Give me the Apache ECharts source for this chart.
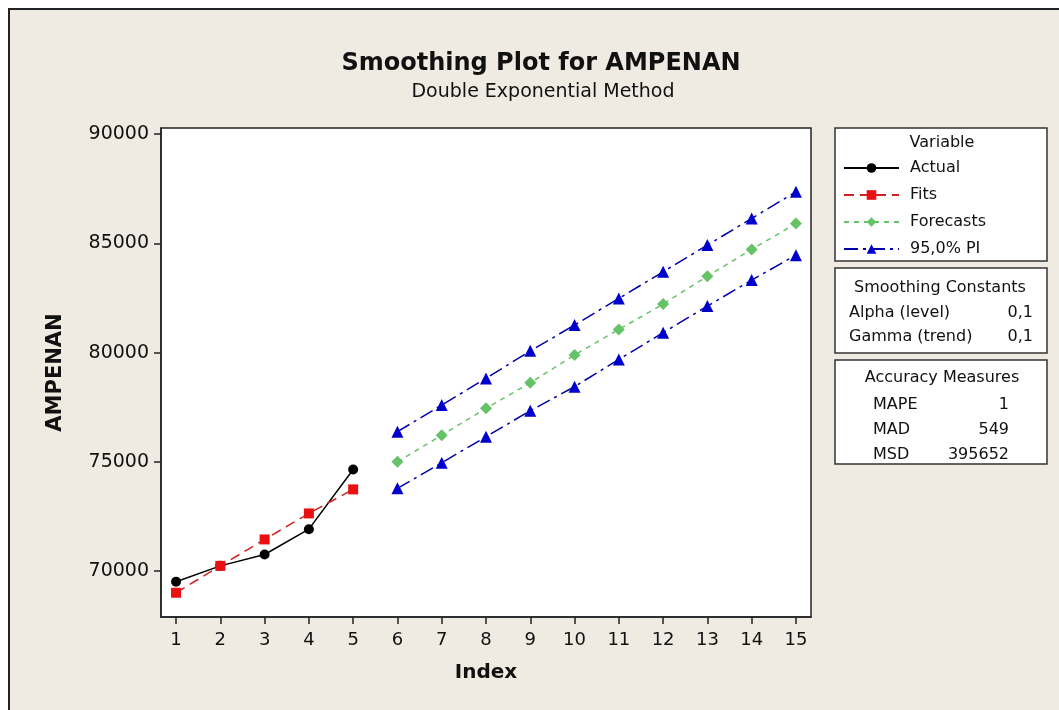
<!DOCTYPE html>
<html><head><meta charset="utf-8">
<script src="https://cdn.jsdelivr.net/npm/echarts@6/dist/echarts.min.js"></script>
<style>html,body{margin:0;padding:0;background:#fff;}#c{width:1059px;height:710px;}</style>
</head><body><div id="c"></div>
<script>
const indexTicks = [1,2,3,4,5,6,7,8,9,10,11,12,13,14,15];
const yTicks = [70000,75000,80000,85000,90000];
const actualX = [1,2,3,4,5];
const actual = [69510,70240,70760,71920,74650];
const fits = [69010,70240,71450,72640,73740];
const forecastX = [6,7,8,9,10,11,12,13,14,15];
const forecasts = [75000,76220,77450,78620,79890,81060,82220,83500,84720,85910];
const upperPI = [76380,77600,78820,80080,81260,82480,83700,84920,86140,87360];
const lowerPI = [73790,74960,76150,77340,78440,79690,80910,82130,83320,84460];
const seriesNames = ['Actual','Fits','Forecasts','95,0% PI'];
const constants = [['Alpha (level)','0,1'],['Gamma (trend)','0,1']];
const accuracy = [['MAPE','1'],['MAD','549'],['MSD','395652']];

const pair = (xs, ys) => xs.map((x,i)=>[x, ys[i]]);
const FONT = '"DejaVu Sans", sans-serif';
const LF = '16px ' + FONT;
const chart = echarts.init(document.getElementById('c'));

const graphics = [
  {type:'rect', shape:{x:9,y:9,width:1100,height:760}, style:{fill:'#efebe2', stroke:'#222', lineWidth:2}, z:-10},
  {type:'rect', shape:{x:835,y:128,width:212,height:133}, style:{fill:'#fff', stroke:'#333', lineWidth:1.5}, z:-1},
  {type:'rect', shape:{x:835,y:268,width:212,height:85}, style:{fill:'#fff', stroke:'#333', lineWidth:1.5}, z:-1},
  {type:'rect', shape:{x:835,y:360,width:212,height:104}, style:{fill:'#fff', stroke:'#333', lineWidth:1.5}, z:-1},
  {type:'text', x:942, y:143, style:{text:'Variable', font:LF, fill:'#111', textAlign:'center', textVerticalAlign:'middle'}},
  {type:'text', x:940, y:288, style:{text:'Smoothing Constants', font:LF, fill:'#111', textAlign:'center', textVerticalAlign:'middle'}},
  {type:'text', x:942, y:378, style:{text:'Accuracy Measures', font:LF, fill:'#111', textAlign:'center', textVerticalAlign:'middle'}}
];
constants.forEach((r,i)=>{
  graphics.push({type:'text', x:849, y:313+i*24, style:{text:r[0], font:LF, fill:'#111', textAlign:'left', textVerticalAlign:'middle'}});
  graphics.push({type:'text', x:1033, y:313+i*24, style:{text:r[1], font:LF, fill:'#111', textAlign:'right', textVerticalAlign:'middle'}});
});
accuracy.forEach((r,i)=>{
  graphics.push({type:'text', x:873, y:405+i*25, style:{text:r[0], font:LF, fill:'#111', textAlign:'left', textVerticalAlign:'middle'}});
  graphics.push({type:'text', x:1009, y:405+i*25, style:{text:r[1], font:LF, fill:'#111', textAlign:'right', textVerticalAlign:'middle'}});
});

chart.setOption({
  backgroundColor:'transparent',
  animation:false,
  title:[
    {text:'Smoothing Plot for AMPENAN', left:536, top:47, textAlign:'center',
     textStyle:{fontFamily:FONT, fontSize:24, fontWeight:'bold', color:'#111'}},
    {text:'Double Exponential Method', left:538, top:78, textAlign:'center',
     textStyle:{fontFamily:FONT, fontSize:19, fontWeight:'normal', color:'#111'}}
  ],
  graphic: graphics,
  legend:{
    data: seriesNames, orient:'vertical', left:843, top:160, padding:0,
    itemWidth:55, itemHeight:12, itemGap:11,
    textStyle:{fontFamily:FONT, fontSize:16, color:'#111', padding:[0,0,0,6]},
    selectedMode:false
  },
  grid:{left:161, right:248, top:128, bottom:93, show:true, backgroundColor:'#fff', borderColor:'#222', borderWidth:1.5},
  xAxis:{
    type:'value', min:0.66, max:15.34,
    name:'Index', nameLocation:'middle', nameGap:46,
    nameTextStyle:{fontFamily:FONT, fontSize:20, fontWeight:'bold', color:'#111'},
    axisLine:{show:true, onZero:false, lineStyle:{color:'#222', width:1.5}},
    axisTick:{show:true, length:7, lineStyle:{color:'#222', width:1.5}, customValues:indexTicks},
    axisLabel:{customValues:indexTicks, fontFamily:FONT, fontSize:18, color:'#111', margin:14},
    splitLine:{show:false}
  },
  yAxis:{
    type:'value', min:67900, max:90280,
    name:'AMPENAN', nameLocation:'middle', nameGap:95,
    nameTextStyle:{fontFamily:FONT, fontSize:21, fontWeight:'bold', color:'#111'},
    axisLine:{show:true, lineStyle:{color:'#222', width:1.5}},
    axisTick:{show:true, length:7, lineStyle:{color:'#222', width:1.5}, customValues:yTicks},
    axisLabel:{customValues:yTicks, formatter:v=>String(v), fontFamily:FONT, fontSize:19, color:'#111', margin:12},
    splitLine:{show:false}
  },
  series:[
    {name:'Actual', type:'line', data:pair(actualX, actual), symbol:'circle', symbolSize:10,
     itemStyle:{color:'#000'}, lineStyle:{color:'#000', width:1.5}},
    {name:'Fits', type:'line', data:pair(actualX, fits), symbol:'rect', symbolSize:10,
     itemStyle:{color:'#e81010'}, lineStyle:{color:'#d02020', width:1.5, type:[10,6]}},
    {name:'Forecasts', type:'line', data:pair(forecastX, forecasts), symbol:'diamond', symbolSize:12,
     itemStyle:{color:'#66c266'}, lineStyle:{color:'#66c266', width:1.5, type:[5,5]}},
    {name:'95,0% PI', type:'line', data:pair(forecastX, upperPI), symbol:'triangle', symbolSize:12,
     itemStyle:{color:'#0000cc'}, lineStyle:{color:'#0000aa', width:1.5, type:[14,5,3,5]}},
    {name:'95,0% PI', type:'line', data:pair(forecastX, lowerPI), symbol:'triangle', symbolSize:12,
     itemStyle:{color:'#0000cc'}, lineStyle:{color:'#0000aa', width:1.5, type:[14,5,3,5]}}
  ]
});
</script></body></html>
